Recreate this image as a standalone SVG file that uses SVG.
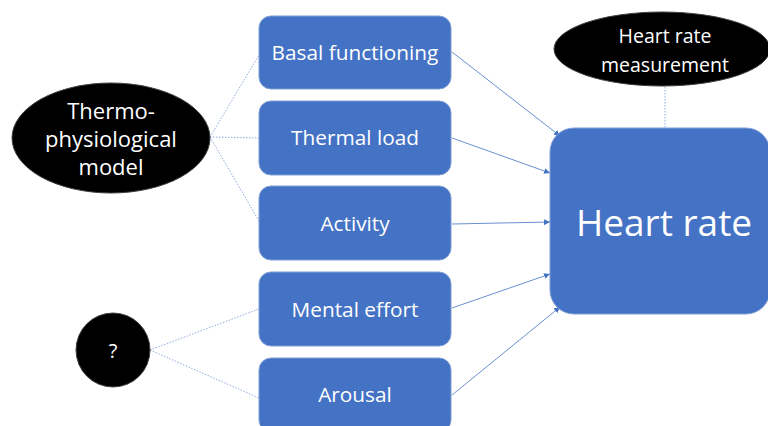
<svg xmlns="http://www.w3.org/2000/svg" width="768" height="426" viewBox="0 0 768 426">
  <defs>
    <marker id="arrow" viewBox="0 0 10 10" refX="10" refY="5" markerWidth="6" markerHeight="6" orient="auto" markerUnits="userSpaceOnUse">
      <path d="M0,0 L10,5 L0,10 z" fill="#4472C4"/>
    </marker>
    <style>
      .box { fill: #4472C4; stroke: #7f9fd6; stroke-width: 1; }
      .oval { fill: #000000; stroke: #404040; stroke-width: 1; }
      .lbl { font-family: "Open Sans", "Noto Sans", sans-serif; fill: #ffffff; text-anchor: middle; }
      .arrow { stroke: #4472C4; stroke-width: 0.8; fill: none; marker-end: url(#arrow); }
      .dot { stroke: #8faadc; stroke-width: 1; stroke-dasharray: 1.5 1.5; fill: none; }
    </style>
  </defs>
  <rect width="768" height="426" fill="#ffffff"/>

  <g id="connectors">
    <line class="dot" x1="210" y1="137" x2="259" y2="55"/>
    <line class="dot" x1="210" y1="137" x2="259" y2="138"/>
    <line class="dot" x1="210" y1="137" x2="259" y2="221"/>
    <line class="dot" x1="150" y1="350" x2="259" y2="309"/>
    <line class="dot" x1="150" y1="350" x2="259" y2="398"/>
    <line class="dot" x1="665" y1="87" x2="665" y2="128"/>
    <line class="arrow" x1="452" y1="52" x2="560" y2="136"/>
    <line class="arrow" x1="452" y1="138" x2="550" y2="173"/>
    <line class="arrow" x1="452" y1="224" x2="550" y2="222"/>
    <line class="arrow" x1="452" y1="308" x2="550" y2="274"/>
    <line class="arrow" x1="452" y1="395" x2="560" y2="307"/>
  </g>

  <g id="thermo-model">
    <ellipse class="oval" cx="111" cy="138" rx="99" ry="55"/>
    <text class="lbl" x="111" y="119" font-size="22">Thermo-</text>
    <text class="lbl" x="111" y="147" font-size="22">physiological</text>
    <text class="lbl" x="111" y="175" font-size="22">model</text>
  </g>

  <g id="unknown">
    <circle class="oval" cx="113" cy="350" r="37"/>
    <text class="lbl" x="113" y="358" font-size="20">?</text>
  </g>

  <g id="basal">
    <rect class="box" x="259" y="16" width="192" height="73" rx="12"/>
    <text class="lbl" x="355" y="60" font-size="20.8">Basal functioning</text>
  </g>
  <g id="thermal">
    <rect class="box" x="259" y="101" width="192" height="74" rx="12"/>
    <text class="lbl" x="355" y="145" font-size="20.8">Thermal load</text>
  </g>
  <g id="activity">
    <rect class="box" x="259" y="186" width="192" height="74" rx="12"/>
    <text class="lbl" x="355" y="231" font-size="20.8">Activity</text>
  </g>
  <g id="mental">
    <rect class="box" x="259" y="272" width="192" height="74" rx="12"/>
    <text class="lbl" x="355" y="317" font-size="20.8">Mental effort</text>
  </g>
  <g id="arousal">
    <rect class="box" x="259" y="358" width="192" height="74" rx="12"/>
    <text class="lbl" x="355" y="402" font-size="20.8">Arousal</text>
  </g>

  <g id="heart-rate">
    <rect class="box" x="550" y="128" width="220" height="186" rx="24"/>
    <text class="lbl" x="664" y="236" font-size="37">Heart rate</text>
  </g>

  <g id="hr-measurement">
    <ellipse class="oval" cx="662" cy="49" rx="108" ry="37"/>
    <text class="lbl" x="665" y="43" font-size="19.5">Heart rate</text>
    <text class="lbl" x="665" y="72" font-size="19.5">measurement</text>
  </g>
</svg>
